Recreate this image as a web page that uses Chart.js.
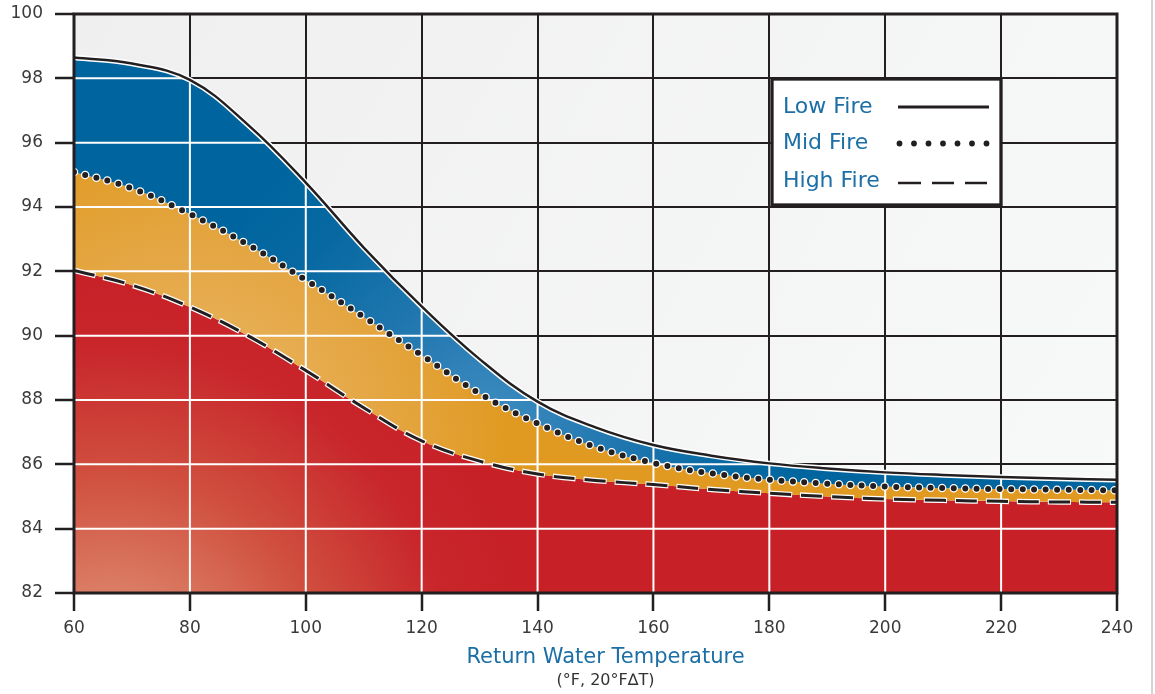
<!DOCTYPE html>
<html>
<head>
<meta charset="utf-8">
<script src="https://cdn.jsdelivr.net/npm/chart.js@4.4.1/dist/chart.umd.min.js"></script>
<style>
  body { margin: 0; background: #fff; }
  #wrap { width: 1155px; height: 694px; position: relative; }
</style>
</head>
<body>
<div id="wrap"><canvas id="myChart"></canvas></div>
<script>
// return water temperature (°F) and efficiency (%)
var temps    = [60, 70, 80, 90, 100, 110, 120, 130, 140, 150, 160, 170, 180, 190, 200, 210, 220, 230, 240];
var lowFire  = [98.65, 98.46, 97.95, 96.56, 94.76, 92.74, 90.91, 89.27, 87.95, 87.15, 86.6, 86.27, 86.03, 85.87, 85.75, 85.67, 85.61, 85.56, 85.52];
var midFire  = [95.09, 94.58, 93.78, 92.83, 91.73, 90.58, 89.39, 88.2, 87.27, 86.54, 86.04, 85.72, 85.52, 85.4, 85.31, 85.26, 85.23, 85.21, 85.19];
var highFire = [92.03, 91.57, 90.89, 90.0, 88.92, 87.76, 86.73, 86.1, 85.7, 85.5, 85.37, 85.22, 85.1, 85.0, 84.92, 84.88, 84.85, 84.83, 84.82];
var xTicks = [60, 80, 100, 120, 140, 160, 180, 200, 220, 240];
var yTicks = [82, 84, 86, 88, 90, 92, 94, 96, 98, 100];

var INK = '#231f20';
var BLUE_TEXT = '#1b6fa6';

function pts(arr) {
    return temps.map(function (t, i) { return { x: t, y: arr[i] }; });
}

function radial(chart, cx, cy, r, stops, fallback) {
    if (!chart.chartArea) return fallback;
    var g = chart.ctx.createRadialGradient(cx, cy, 0, cx, cy, r);
    stops.forEach(function (s) { g.addColorStop(s[0], s[1]); });
    return g;
}

var panel = {
    id: 'panel',
    beforeDraw: function (chart) {
        var ctx = chart.ctx, a = chart.chartArea;
        var g = ctx.createLinearGradient(a.left, a.top, a.right, a.bottom);
        g.addColorStop(0, '#efefef');
        g.addColorStop(1, '#f8f9f9');
        ctx.save();
        ctx.fillStyle = g;
        ctx.fillRect(a.left, a.top, a.right - a.left, a.bottom - a.top);
        ctx.restore();
    },
    beforeDatasetsDraw: function (chart) {
        // white grid lines over the coloured bands (under the Low Fire curve)
        var ctx = chart.ctx, a = chart.chartArea;
        var line = chart.getDatasetMeta(0).dataset;
        var xs = chart.scales.x, ys = chart.scales.y;
        line.updateControlPoints(a, 'x');
        ctx.save();
        ctx.beginPath();
        line.path(ctx);
        ctx.lineTo(a.right, a.bottom);
        ctx.lineTo(a.left, a.bottom);
        ctx.closePath();
        ctx.clip();
        ctx.strokeStyle = '#ffffff';
        ctx.lineWidth = 2;
        ctx.beginPath();
        xs.ticks.forEach(function (t) {
            var px = xs.getPixelForValue(t.value);
            ctx.moveTo(px, a.top); ctx.lineTo(px, a.bottom);
        });
        ys.ticks.forEach(function (t) {
            var py = ys.getPixelForValue(t.value);
            ctx.moveTo(a.left, py); ctx.lineTo(a.right, py);
        });
        ctx.stroke();
        ctx.restore();
    },
    afterDatasetsDraw: function (chart) {
        var ctx = chart.ctx, a = chart.chartArea;
        ctx.save();
        // frame
        ctx.strokeStyle = INK;
        ctx.lineWidth = 3;
        ctx.strokeRect(a.left, a.top, a.right - a.left, a.bottom - a.top);

        // legend box
        ctx.fillStyle = '#ffffff';
        ctx.fillRect(772, 79, 229, 126);
        ctx.lineWidth = 3.3;
        ctx.strokeRect(772, 79, 229, 126);

        var ds = chart.data.datasets;
        ctx.font = '22px "DejaVu Sans"';
        ctx.fillStyle = BLUE_TEXT;
        ctx.textBaseline = 'alphabetic';
        ctx.textAlign = 'left';
        ctx.fillText(ds[0].label, 783, 113);
        ctx.fillText(ds[1].label, 783, 149);
        ctx.fillText(ds[2].label, 783, 187);

        ctx.strokeStyle = INK;
        ctx.lineWidth = 3;
        ctx.beginPath();
        ctx.moveTo(898, 107); ctx.lineTo(989, 107);
        ctx.stroke();

        ctx.fillStyle = INK;
        for (var i = 0; i < 7; i++) {
            ctx.beginPath();
            ctx.arc(899.5 + i * 14.5, 143.5, 2.9, 0, Math.PI * 2);
            ctx.fill();
        }

        ctx.lineWidth = 2.5;
        ctx.beginPath();
        [[898, 921], [932, 954], [965, 987]].forEach(function (d) {
            ctx.moveTo(d[0], 183); ctx.lineTo(d[1], 183);
        });
        ctx.stroke();

        // axis title
        var cx = (a.left + a.right) / 2 + 10;
        ctx.textAlign = 'center';
        ctx.fillStyle = BLUE_TEXT;
        ctx.font = '21px "DejaVu Sans"';
        ctx.fillText('Return Water Temperature', cx, 663);
        ctx.fillStyle = '#333333';
        ctx.font = '16px "DejaVu Sans"';
        ctx.fillText('(°F, 20°F\u2206T)', cx, 685);

        // page edge
        ctx.strokeStyle = '#c4c4c4';
        ctx.lineWidth = 1.5;
        ctx.beginPath();
        ctx.moveTo(1152, 0); ctx.lineTo(1152, 694);
        ctx.stroke();
        ctx.restore();
    }
};

var ctx = document.getElementById('myChart').getContext('2d');
var myChart = new Chart(ctx, {
    type: 'line',
    data: {
        datasets: [{
            label: 'Low Fire',
            data: pts(lowFire),
            borderColor: INK,
            borderWidth: 2.5,
            fill: '+1',
            backgroundColor: function (c) {
                return radial(c.chart, 490, 420, 320, [[0, '#3d8cc0'], [0.35, '#2479b1'], [0.75, '#0869a2'], [1, '#00659e']], '#00679f');
            },
            order: 0
        }, {
            label: 'Mid Fire',
            data: pts(midFire),
            borderColor: INK,
            borderWidth: 6,
            borderDash: [0, 11.5],
            borderCapStyle: 'round',
            fill: '+1',
            backgroundColor: function (c) {
                return radial(c.chart, 190, 440, 320, [[0, '#ebb96c'], [0.55, '#e5a847'], [1, '#e09a22']], '#e09b25');
            },
            order: 0
        }, {
            label: 'High Fire',
            data: pts(highFire),
            borderColor: INK,
            borderWidth: 3,
            borderDash: [21, 10],
            fill: 'start',
            backgroundColor: function (c) {
                return radial(c.chart, 110, 690, 430, [[0, '#e49b82'], [0.25, '#da7a62'], [0.5, '#d0503f'], [0.8, '#c8262b'], [1, '#c72027']], '#c92127');
            },
            order: 0
        }, {
            label: 'halo-low',
            data: pts(lowFire),
            borderColor: '#ffffff',
            borderWidth: 5.5,
            fill: false,
            order: 1
        }, {
            label: 'halo-mid',
            data: pts(midFire),
            borderColor: '#ffffff',
            borderWidth: 8.5,
            borderDash: [0, 11.5],
            borderCapStyle: 'round',
            fill: false,
            order: 1
        }, {
            label: 'halo-high',
            data: pts(highFire),
            borderColor: '#ffffff',
            borderWidth: 5.5,
            borderDash: [23, 8],
            borderDashOffset: 1,
            fill: false,
            order: 1
        }]
    },
    options: {
        responsive: true,
        maintainAspectRatio: false,
        animation: false,
        layout: { autoPadding: false, padding: { top: 14, right: 38, left: 0, bottom: 0 } },
        elements: {
            point: { radius: 0, hoverRadius: 0 },
            line: { tension: 0.4 }
        },
        plugins: {
            legend: { display: false },
            tooltip: { enabled: false },
            filler: { drawTime: 'beforeDatasetsDraw' }
        },
        scales: {
            x: {
                type: 'linear',
                min: 60,
                max: 240,
                afterBuildTicks: function (s) { s.ticks = xTicks.map(function (v) { return { value: v }; }); },
                afterFit: function (s) { s.height = 101; s.paddingLeft = 0; s.paddingRight = 0; },
                grid: { color: INK, lineWidth: 2, tickLength: 18, tickColor: INK, tickWidth: 2.5 },
                border: { display: false },
                ticks: { color: '#3a3a3a', padding: 7, maxRotation: 0, font: { family: 'DejaVu Sans', size: 17 } }
            },
            y: {
                min: 82,
                max: 100,
                afterBuildTicks: function (s) { s.ticks = yTicks.map(function (v) { return { value: v }; }); },
                afterFit: function (s) { s.width = 74; s.paddingTop = 0; s.paddingBottom = 0; },
                grid: { color: INK, lineWidth: 2, tickLength: 19, tickColor: INK, tickWidth: 2.5 },
                border: { display: false },
                ticks: { color: '#3a3a3a', padding: 12, font: { family: 'DejaVu Sans', size: 17 } }
            }
        }
    },
    plugins: [panel]
});
</script>
</body>
</html>
